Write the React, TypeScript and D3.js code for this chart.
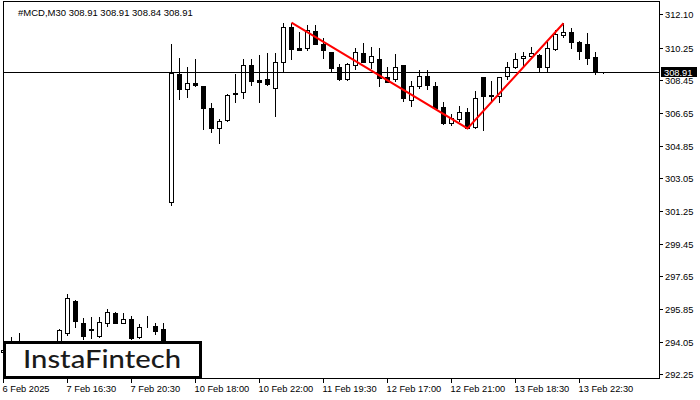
import React from "react";
import * as d3 from "d3";

const opens = [293.5,294.2,294.05,293.95,293.7,293.5,293.6,293.8,294.52,296.29,295.08,294.7,294.36,295.08,295.63,295.08,295.3,294.3,295.33,294.91,294.74,
301.74,308.79,307.95,308.32,308.13,306.92,305.82,306.26,307.76,307.79,309.27,308.46,308.5,308.01,309.47,311.37,310.21,310.21,311.16,310.46,309.99,309.2,308.5,309.29,309.93,309.44,309.62,308.65,308.5,309.29,307.36,308.13,308.68,308.13,306.96,306.08,306.3,306.68,305.86,308.61,307.6,307.6,308.67,309.2,309.66,309.8,309.84,309.16,310.16,310.94,311.09,310.54,310.43,309.71,308.91];
const highs = [293.8,294.3,294.54,294.05,293.9,293.8,293.9,294.75,296.67,296.35,295.35,295.41,295.41,295.85,295.7,295.63,295.46,295.02,295.46,295.08,295.08,
310.45,309.68,309.18,309.62,308.15,307.2,306.31,307.7,308.79,309.62,309.62,309.84,309.95,309.95,311.6,311.63,311.12,311.49,311.49,310.78,310.0,309.33,309.38,310.21,310.49,310.3,310.21,309.2,309.88,309.3,308.41,309.01,309.01,308.37,307.23,306.57,307.05,306.94,307.86,308.65,308.41,308.65,309.47,309.93,310.02,310.3,309.88,310.54,311.22,311.59,311.31,310.61,311.04,310.02,308.91];
const lows = [293.3,294.0,293.9,293.6,293.4,293.3,293.4,293.7,294.4,294.85,294.19,294.25,294.3,294.91,295.05,295.05,294.2,294.25,294.85,294.47,293.8,
301.6,307.43,307.54,308.15,305.78,305.62,305.0,306.2,307.27,307.49,308.19,307.27,308.19,306.5,308.89,309.6,310.1,310.12,310.43,309.69,308.96,308.46,308.45,309.07,309.44,309.11,308.15,308.34,308.41,307.32,307.03,308.04,307.97,306.9,306.02,305.96,306.2,305.8,305.8,305.71,307.24,307.24,308.52,309.11,309.2,309.66,308.96,308.96,310.12,310.85,310.24,309.6,309.33,308.79,308.84];
const closes = [293.6,294.18,294.1,293.7,293.5,293.6,293.8,294.69,296.45,295.19,294.36,294.72,295.13,295.68,295.08,295.3,294.25,294.85,295.36,294.63,293.9,
308.83,307.95,308.28,308.17,306.94,305.82,306.2,307.64,307.68,309.27,308.43,308.37,308.23,309.44,311.37,310.16,310.14,311.22,310.46,310.1,309.11,308.5,309.33,309.99,309.47,309.8,308.56,308.37,309.16,307.46,308.13,308.68,308.19,306.94,306.08,306.35,306.72,305.84,307.46,307.57,307.64,308.61,309.16,309.6,309.77,309.95,309.2,310.23,310.98,311.09,310.54,310.06,309.69,308.96,308.91];

const priceTicks = [312.10, 310.25, 308.45, 306.65, 304.85, 303.05, 301.25, 299.45, 297.65, 295.85, 294.05, 292.25];
const timeTickIndex = [0, 8, 16, 24, 32, 40, 48, 56, 64, 72];
const timeTickLabels = ["6 Feb 2025", "7 Feb 16:30", "7 Feb 20:30", "10 Feb 18:00", "10 Feb 22:00", "11 Feb 19:30", "12 Feb 17:00", "12 Feb 21:00", "13 Feb 18:30", "13 Feb 22:30"];
const patternIndex = [36, 58, 70];
const patternKind = ["high", "low", "high"];
const currentPrice = 308.91;
const headerText = "#MCD,M30  308.91 308.91 308.84 308.91";

const W = 700, H = 400;
const left = 3, right = 659, top = 1, bottom = 378;
const font = "'Liberation Sans', Arial, sans-serif";

export default function App() {
  const x = d3.scaleLinear().domain([0, 75]).range([3, 603]);
  const y = d3.scaleLinear().domain([292.25, 312.10]).range([374.3, 14]);
  const px = (v: number) => Math.round(v);

  const candles = opens.map((o, i) => {
    const c = closes[i];
    const cx = px(x(i));
    const yo = y(o), yc = y(c);
    const yt = Math.round(Math.min(yo, yc));
    const yb = Math.round(Math.max(yo, yc));
    const bull = c >= o;
    return (
      <g key={i}>
        <line x1={cx + 0.5} x2={cx + 0.5} y1={Math.round(y(highs[i]))} y2={Math.round(y(lows[i])) + 1} stroke="#000" strokeWidth={1} />
        <rect x={cx - 2 + 0.5} y={yt + 0.5} width={4} height={Math.max(0, yb - yt)} fill={bull ? "#fff" : "#000"} stroke="#000" strokeWidth={1} />
      </g>
    );
  });

  const patPts = patternIndex.map((idx, k) => [x(idx) + 0.5, y(patternKind[k] === "high" ? highs[idx] : lows[idx])] as [number, number]);
  const patPath = d3.line()(patPts) || "";
  const yCur = Math.round(y(currentPrice)) + 0.5;

  return (
    <svg width={W} height={H} style={{ position: "absolute", left: 0, top: 0, background: "#fff" }} shapeRendering="crispEdges">
      <rect x={0} y={0} width={W} height={H} fill="#fff" />
      <text x={18} y={16} fontFamily={font} fontSize={9.5} fill="#000">{headerText}</text>
      {candles}
      <line x1={left} x2={right} y1={yCur} y2={yCur} stroke="#000" strokeWidth={1} />
      <path d={patPath} fill="none" stroke="#ff0000" strokeWidth={2} shapeRendering="auto" />
      <rect x={left + 0.5} y={top + 0.5} width={right - left} height={bottom - top} fill="none" stroke="#000" strokeWidth={1} />
      {priceTicks.map((v) => {
        const ty = Math.round(y(v)) + 0.5;
        return (
          <g key={v}>
            <line x1={right} x2={right + 4} y1={ty} y2={ty} stroke="#000" />
            <text x={665} y={ty + 3.3} fontFamily={font} fontSize={9.3} fill="#000">{v.toFixed(2)}</text>
          </g>
        );
      })}
      <rect x={661} y={yCur - 5.5} width={36} height={10} fill="#000" />
      <text x={664} y={yCur + 3.5} fontFamily={font} fontSize={9.3} fill="#fff">{currentPrice.toFixed(2)}</text>
      {timeTickIndex.map((idx, k) => {
        const tx = px(x(idx)) + 0.5;
        return (
          <g key={idx}>
            <line x1={tx} x2={tx} y1={bottom} y2={bottom + 5} stroke="#000" />
            <text x={tx - 1} y={392} fontFamily={font} fontSize={9.3} fill="#000">{timeTickLabels[k]}</text>
          </g>
        );
      })}
      <rect x={4} y={342} width={196} height={35} fill="#fff" stroke="#000" strokeWidth={3} />
      <text x={23} y={368} fontFamily="Lato, 'Open Sans', sans-serif" fontSize={25} fontWeight={500} fill="#1a1a1a" textLength={158} lengthAdjust="spacingAndGlyphs" shapeRendering="auto">InstaFintech</text>
    </svg>
  );
}
